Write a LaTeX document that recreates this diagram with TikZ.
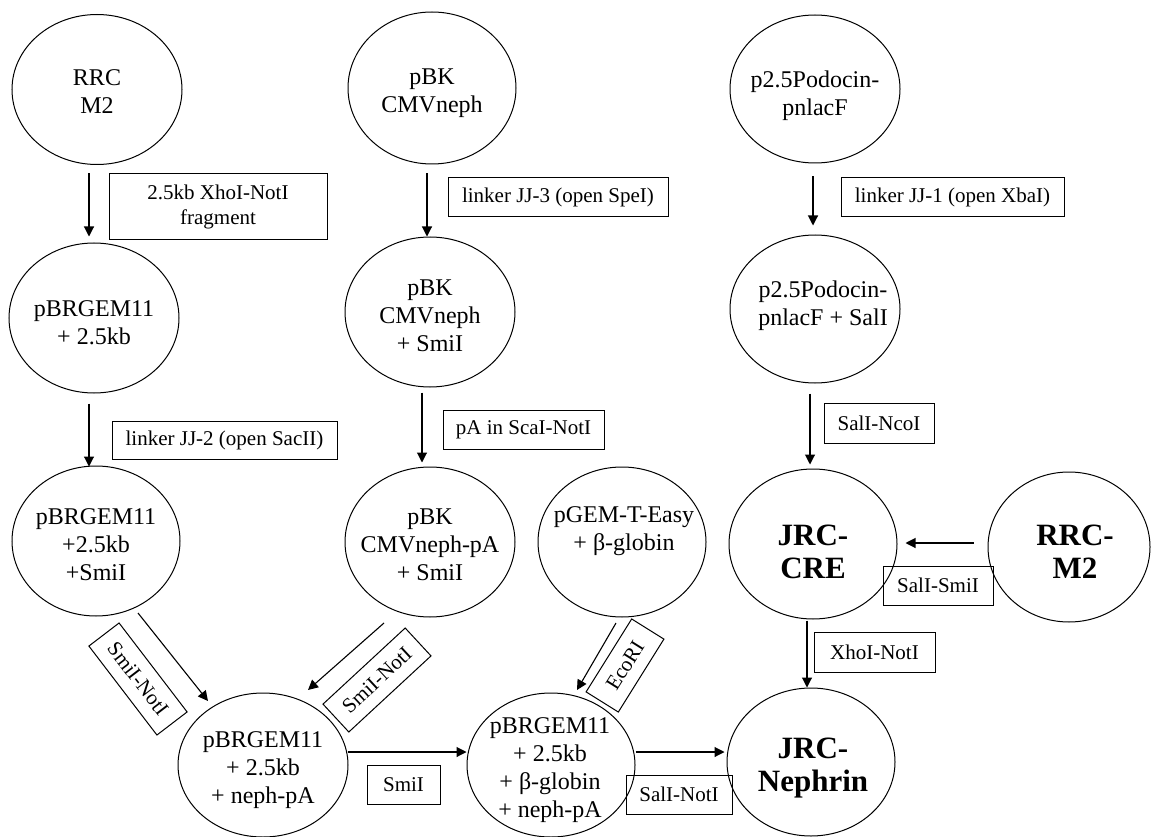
\documentclass[tikz,border=0pt]{standalone}
\usepackage{fontspec}
\setmainfont{Liberation Serif}
\usetikzlibrary{shapes.geometric,arrows.meta,calc}
\begin{document}
\begin{tikzpicture}[x=1pt,y=-1pt,
  ell/.style={draw,ellipse,line width=1pt,inner sep=0pt},
  etxt/.style={align=center,inner sep=0pt,font=\fontsize{24}{28}\selectfont},
  btxt/.style={align=center,inner sep=0pt,font=\fontsize{31}{33}\selectfont\bfseries},
  lbl/.style={draw,rectangle,line width=1pt,inner sep=0pt,align=center,
    font=\fontsize{21}{25}\selectfont},
  arr/.style={line width=1.1pt,-{Triangle[length=10pt,width=10pt]}}]
\useasboundingbox (0,0) rectangle (1151,837);
% ellipses
\node[ell,minimum width=170,minimum height=150] (rrc) at (97,89.5) {};
\node[etxt] (rrc-t) at (97,92) {RRC\\M2};
\node[ell,minimum width=168,minimum height=152] (pbk) at (432,88) {};
\node[etxt] (pbk-t) at (432,93) {pBK\\CMVneph};
\node[ell,minimum width=170,minimum height=148] (pod) at (815,89) {};
\node[etxt] (pod-t) at (815,96) {p2.5Podocin-\\pnlacF};
\node[ell,minimum width=170,minimum height=150] (ga) at (94,318) {};
\node[etxt] (ga-t) at (94,323) {pBRGEM11\\+ 2.5kb};
\node[ell,minimum width=170,minimum height=150] (pbkb) at (430,312) {};
\node[etxt] (pbkb-t) at (430,316) {pBK\\CMVneph\\+ SmiI};
\node[ell,minimum width=170,minimum height=148] (podb) at (815,309) {};
\node[etxt] (podb-t) at (823,306) {p2.5Podocin-\\pnlacF + SalI};
\node[ell,minimum width=168,minimum height=150] (gb) at (96,541) {};
\node[etxt] (gb-t) at (96,545) {pBRGEM11\\+2.5kb\\+SmiI};
\node[ell,minimum width=170,minimum height=150] (pbkc) at (430,542) {};
\node[etxt] (pbkc-t) at (430,545) {pBK\\CMVneph-pA\\+ SmiI};
\node[ell,minimum width=168,minimum height=150] (pgem) at (622,542) {};
\node[etxt] (pgem-t) at (624,531) {pGEM-T-Easy\\+ β-globin};
\node[ell,minimum width=168,minimum height=150] (cre) at (813,544) {};
\node[btxt] (cre-t) at (813,552) {JRC-\\CRE};
\node[ell,minimum width=162,minimum height=150] (rrcb) at (1069,547) {};
\node[btxt] (rrcb-t) at (1075,552) {RRC-\\M2};
\node[ell,minimum width=170,minimum height=144] (gc) at (263,765) {};
\node[etxt] (gc-t) at (263,770) {pBRGEM11\\+ 2.5kb\\+ neph-pA};
\node[ell,minimum width=168,minimum height=144] (gd) at (551,765) {};
\node[etxt] (gd-t) at (550,770) {pBRGEM11\\+ 2.5kb\\+ β-globin\\+ neph-pA};
\node[ell,minimum width=168,minimum height=148] (neph) at (811,762) {};
\node[btxt] (neph-t) at (813,768) {JRC-\\Nephrin};
% labels
\node[lbl,minimum width=218,minimum height=65] (b1) at (218,206.5) {2.5kb XhoI-NotI\\fragment};
\node[lbl,minimum width=220,minimum height=39] (b2) at (558,197.5) {linker JJ-3 (open SpeI)};
\node[lbl,minimum width=223,minimum height=39] (b3) at (952.5,197.5) {linker JJ-1 (open XbaI)};
\node[lbl,minimum width=225,minimum height=38] (b4) at (224.5,440) {linker JJ-2 (open SacII)};
\node[lbl,minimum width=161,minimum height=39] (b5) at (523.5,429.5) {pA in ScaI-NotI};
\node[lbl,minimum width=110,minimum height=40] (b6) at (879,423) {SalI-NcoI};
\node[lbl,minimum width=110,minimum height=39] (b7) at (938,585.5) {SalI-SmiI};
\node[lbl,minimum width=121,minimum height=40] (b8) at (874.5,652) {XhoI-NotI};
\node[lbl,minimum width=73,minimum height=39] (b9) at (403.5,784.5) {SmiI};
\node[lbl,minimum width=106,minimum height=39] (b10) at (679,794.5) {SalI-NotI};
\node[lbl,minimum width=112,minimum height=38,rotate=-52.6] (b11) at (138,679) {SmiI-NotI};
\node[lbl,minimum width=112,minimum height=38,rotate=42.8] (b12) at (377,680) {SmiI-NotI};
\node[lbl,minimum width=86,minimum height=38,rotate=58] (b13) at (625,665.5) {EcoRI};
% arrows
\draw[arr] ($(rrc.south)+(-8,8.5)$) -- ($(ga.north)+(-5,-6)$);
\draw[arr] ($(pbk.south)+(-5,9)$) -- ($(pbkb.north)+(-3,0)$);
\draw[arr] ($(pod.south)+(-2,13)$) -- ($(podb.north)+(-2,-9)$);
\draw[arr] ($(ga.south)+(-5,10)$) -- ($(gb.north)+(-7,1)$);
\draw[arr] ($(pbkb.south)+(-8,5)$) -- ($(pbkc.north)+(-8,-4)$);
\draw[arr] ($(podb.south)+(-5,10)$) -- ($(cre.north)+(-3,-4)$);
\draw[arr] ($(rrcb.west)+(-14,-4)$) -- ($(cre.east)+(8,-1)$);
\draw[arr] ($(cre.south)+(-6,1)$) -- ($(neph.north)+(-4,0)$);
\draw[arr] ($(gb.center)+(42,72)$) -- ($(gc.center)+(-55,-64)$);
\draw[arr] ($(pbkc.center)+(-46,81)$) -- ($(gc.center)+(45,-75)$);
\draw[arr] ($(pgem.center)+(-6,81)$) -- ($(gd.center)+(26,-75)$);
\draw[arr] ($(gc.east)+(-1,-13)$) -- ($(gd.west)+(0,-13)$);
\draw[arr] ($(gd.east)+(0,-13)$) -- ($(neph.west)+(-2,-10)$);
\end{tikzpicture}
\end{document}
